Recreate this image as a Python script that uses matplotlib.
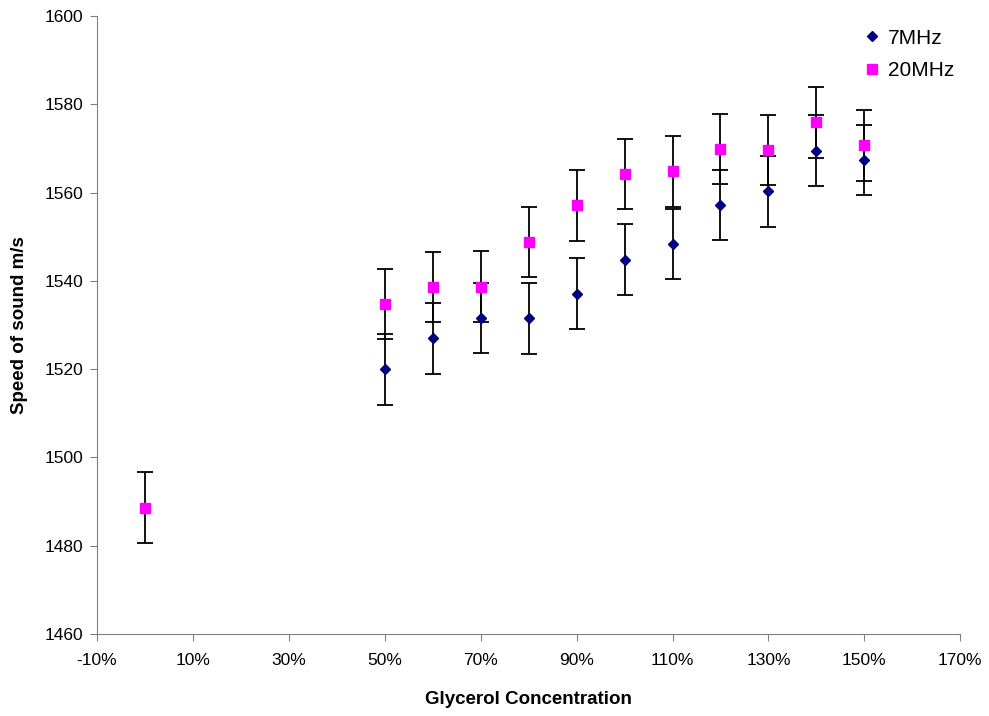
import numpy as np
import matplotlib.pyplot as plt
from matplotlib.lines import Line2D
from matplotlib.ticker import FuncFormatter

plt.rcParams['font.family'] = ['Liberation Sans', 'DejaVu Sans']

# glycerol concentration (fraction)
conc_7 = [0.5, 0.6, 0.7, 0.8, 0.9, 1.0, 1.1, 1.2, 1.3, 1.4, 1.5]
speed_7 = [1520.0, 1527.0, 1531.6, 1531.5, 1537.1, 1544.8, 1548.4, 1557.2, 1560.3, 1569.5, 1567.4]
conc_20 = [0.0, 0.5, 0.6, 0.7, 0.8, 0.9, 1.0, 1.1, 1.2, 1.3, 1.4, 1.5]
speed_20 = [1488.6, 1534.8, 1538.6, 1538.7, 1548.8, 1557.1, 1564.2, 1564.8, 1569.9, 1569.7, 1575.9, 1570.7]
err = 8.0

fig = plt.figure(figsize=(9.89, 7.16), dpi=100)
ax = fig.add_axes([0.098, 0.1145, 0.873, 0.863])

ax.errorbar(conc_7, speed_7, yerr=err, fmt='D', color='#000080', ms=5.5,
            ecolor='black', elinewidth=1.3, capsize=6, capthick=1.3, zorder=3)
ax.errorbar(conc_20, speed_20, yerr=err, fmt='s', color='#FF00FF', ms=7,
            ecolor='black', elinewidth=1.3, capsize=6, capthick=1.3, zorder=3)

ax.set_xlim(-0.1, 1.7)
ax.set_ylim(1460, 1600)
ax.set_xticks(np.arange(-0.1, 1.71, 0.2))
ax.set_yticks(np.arange(1460, 1601, 20))
ax.xaxis.set_major_formatter(FuncFormatter(lambda v, p: '%d%%' % round(v * 100)))
ax.tick_params(direction='out', length=5, labelsize=12.5, color='#808080', pad=5)
ax.tick_params(axis='x', pad=9)

for s in ['top', 'right']:
    ax.spines[s].set_visible(False)
ax.spines['left'].set_color('#808080')
ax.spines['bottom'].set_color('#808080')

ax.set_xlabel('Glycerol Concentration', fontsize=13.5, fontweight='bold', labelpad=16)
ax.set_ylabel('Speed of sound m/s', fontsize=13.5, fontweight='bold', labelpad=12)

handles = [Line2D([], [], ls='none', marker='D', color='#000080', ms=5),
           Line2D([], [], ls='none', marker='s', color='#FF00FF', ms=6.5)]
ax.legend(handles, ['7MHz', '20MHz'], loc='upper right', bbox_to_anchor=(1.015, 1.01),
          frameon=False, fontsize=15, handletextpad=0.4, handlelength=0.8, labelspacing=0.65)

fig.savefig('out.png', dpi=100)
